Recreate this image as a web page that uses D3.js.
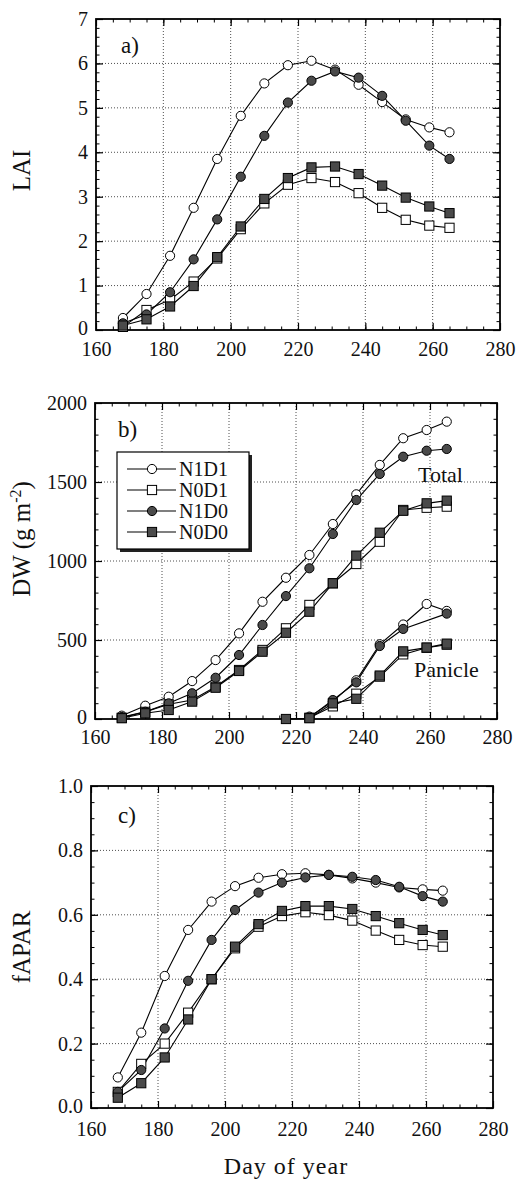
<!DOCTYPE html>
<html>
<head>
<meta charset="utf-8">
<script src="https://cdn.jsdelivr.net/npm/d3@7"></script>
<style>
  body { margin: 0; background: #fff; }
  svg text { font-family: "Liberation Serif", "DejaVu Serif", serif; fill: #111; }
</style>
</head>
<body>
<div id="chart"></div>
<script>
// sampling days (day of year)
var days = [168, 175, 182, 189, 196, 203, 210, 217, 224, 231, 238, 245, 252, 259, 265];
var panicleDays = [217, 224, 231, 238, 245, 252, 259, 265];

var xTicks = [160, 180, 200, 220, 240, 260, 280];

// a) LAI
var laiN1D1 = [0.27, 0.81, 1.67, 2.75, 3.85, 4.82, 5.55, 5.96, 6.06, 5.86, 5.52, 5.13, 4.74, 4.56, 4.45];
var laiN0D1 = [0.07, 0.45, 0.68, 1.09, 1.61, 2.27, 2.85, 3.27, 3.42, 3.33, 3.08, 2.75, 2.48, 2.35, 2.30];
var laiN1D0 = [0.15, 0.35, 0.85, 1.59, 2.49, 3.45, 4.37, 5.12, 5.61, 5.82, 5.68, 5.27, 4.71, 4.15, 3.85];
var laiN0D0 = [0.10, 0.24, 0.53, 0.99, 1.64, 2.33, 2.95, 3.42, 3.66, 3.68, 3.51, 3.25, 2.98, 2.78, 2.63];
var laiTicks = [0, 1, 2, 3, 4, 5, 6, 7];

// b) DW total and panicle
var dwN1D1 = [21, 84, 141, 240, 373, 542, 742, 894, 1038, 1234, 1422, 1608, 1777, 1829, 1882];
var dwN0D1 = [8, 45, 93, 120, 204, 310, 437, 574, 722, 859, 981, 1122, 1323, 1337, 1344];
var dwN1D0 = [12, 46, 99, 163, 261, 405, 595, 778, 954, 1171, 1386, 1551, 1660, 1698, 1709];
var dwN0D0 = [5, 36, 57, 110, 198, 304, 426, 546, 679, 859, 1034, 1179, 1318, 1365, 1382];
var panN1D1 = [null, 15, 110, 245, 473, 598, 728, 684];
var panN0D1 = [null, 8, 80, 160, 268, 409, 451, 470];
var panN1D0 = [null, 8, 120, 232, 462, 570, null, 667];
var panN0D0 = [0, 5, 99, 128, 275, 428, 452, 477];
var dwTicks = [0, 500, 1000, 1500, 2000];

// c) fAPAR
var fN1D1 = [0.095, 0.234, 0.41, 0.553, 0.641, 0.689, 0.715, 0.726, 0.729, 0.724, 0.713, 0.70, 0.685, 0.679, 0.675];
var fN0D1 = [0.05, 0.137, 0.20, 0.296, 0.40, 0.496, 0.563, 0.596, 0.608, 0.599, 0.582, 0.551, 0.522, 0.506, 0.501];
var fN1D0 = [0.05, 0.118, 0.247, 0.395, 0.522, 0.615, 0.669, 0.70, 0.716, 0.724, 0.718, 0.708, 0.687, 0.658, 0.641];
var fN0D0 = [0.032, 0.077, 0.157, 0.275, 0.40, 0.501, 0.571, 0.612, 0.627, 0.627, 0.618, 0.596, 0.574, 0.553, 0.537];
var fTicks = [0, 0.2, 0.4, 0.6, 0.8, 1.0];

var treatments = ["N1D1", "N0D1", "N1D0", "N0D0"];
// marker per treatment: shape + filled
var markers = {
    N1D1: { shape: "circle", fill: "#fff" },
    N0D1: { shape: "square", fill: "#fff" },
    N1D0: { shape: "circle", fill: "#4a4a4a" },
    N0D0: { shape: "square", fill: "#4a4a4a" }
};

var svgWidth = 517;
var svgHeight = 1180;

var svg = d3.select("#chart")
    .append("svg")
    .attr("width", svgWidth)
    .attr("height", svgHeight);

function pairUp(xs, ys) {
    var out = [];
    xs.forEach(function(d, i) {
        if (ys[i] !== null) out.push({ x: d, y: ys[i] });
    });
    return out;
}

function drawMarker(g, x, y, m) {
    if (m.shape === "circle") {
        g.append("circle")
            .attr("cx", x).attr("cy", y).attr("r", 4.6)
            .attr("fill", m.fill).attr("stroke", "#000").attr("stroke-width", 1);
    } else {
        g.append("rect")
            .attr("x", x - 4.6).attr("y", y - 4.6)
            .attr("width", 9.2).attr("height", 9.2)
            .attr("fill", m.fill).attr("stroke", "#000").attr("stroke-width", 1);
    }
}

function drawPanel(cfg) {
    var g = svg.append("g");
    var x = d3.scaleLinear().domain([160, 280]).range([cfg.left, cfg.right]);
    var y = d3.scaleLinear().domain(cfg.yDomain).range([cfg.bottom, cfg.top]);

    // dotted grid
    g.append("g").selectAll("line.vg")
        .data(xTicks.slice(1, -1))
        .enter().append("line")
        .attr("x1", d => x(d)).attr("x2", d => x(d))
        .attr("y1", cfg.top).attr("y2", cfg.bottom)
        .attr("stroke", "#222").attr("stroke-width", 0.8)
        .attr("stroke-dasharray", "1,2");
    g.append("g").selectAll("line.hg")
        .data(cfg.yTicks.slice(1, -1))
        .enter().append("line")
        .attr("x1", cfg.left).attr("x2", cfg.right)
        .attr("y1", d => y(d)).attr("y2", d => y(d))
        .attr("stroke", "#222").attr("stroke-width", 0.8)
        .attr("stroke-dasharray", "1,2");

    // minor + major ticks, inward on all four sides
    var xMinor = d3.range(160, 281, 5);
    var yMinor = d3.range(cfg.yDomain[0], cfg.yDomain[1] + cfg.minor / 2, cfg.minor);
    var axes = [
        { ax: d3.axisBottom(x), t: `translate(0,${cfg.bottom})`, minor: xMinor, major: xTicks, lab: true },
        { ax: d3.axisTop(x), t: `translate(0,${cfg.top})`, minor: xMinor, major: xTicks, lab: false },
        { ax: d3.axisLeft(y), t: `translate(${cfg.left},0)`, minor: yMinor, major: cfg.yTicks, lab: true },
        { ax: d3.axisRight(y), t: `translate(${cfg.right},0)`, minor: yMinor, major: cfg.yTicks, lab: false }
    ];
    axes.forEach(function(a, i) {
        var mg = g.append("g").attr("transform", a.t)
            .call(a.ax.tickValues(a.minor).tickSize(-3.5).tickFormat(""));
        mg.select(".domain").remove();
        mg.selectAll("line").attr("stroke", "#000").attr("stroke-width", 1);
        var big = g.append("g").attr("transform", a.t)
            .call(a.ax.tickValues(a.major).tickSize(-7).tickPadding(i === 0 ? cfg.xPad : 8)
                .tickFormat(a.lab ? (i === 0 ? d3.format("d") : cfg.fmt) : ""));
        big.select(".domain").remove();
        big.selectAll("line").attr("stroke", "#000").attr("stroke-width", 1.2);
        big.selectAll("text").attr("font-size", 20)
            .style("font-family", "'Liberation Serif', serif").attr("fill", "#111");
        // lift the corner "0" a touch so it clears the first day label
        if (i === 2) big.selectAll("text").filter(d => d === 0).attr("dy", "0.2em");
    });

    // frame
    g.append("rect")
        .attr("x", cfg.left).attr("y", cfg.top)
        .attr("width", cfg.right - cfg.left).attr("height", cfg.bottom - cfg.top)
        .attr("fill", "none").attr("stroke", "#000").attr("stroke-width", 1.8);

    // series
    var line = d3.line().x(d => x(d.x)).y(d => y(d.y));
    cfg.series.forEach(function(s) {
        var pts = pairUp(s.days, s.values);
        g.append("path").datum(pts)
            .attr("d", line)
            .attr("fill", "none").attr("stroke", "#000").attr("stroke-width", 1.1);
    });
    cfg.series.forEach(function(s) {
        var pts = pairUp(s.days, s.values);
        pts.forEach(function(p) {
            drawMarker(g, x(p.x), y(p.y), markers[s.name]);
        });
    });

    // panel tag
    g.append("text")
        .attr("x", cfg.tag[0]).attr("y", cfg.tag[1])
        .attr("font-size", 23)
        .text(cfg.tagText);

    // y title
    var yt = g.append("text")
        .attr("transform", `translate(${cfg.ytX},${(cfg.top + cfg.bottom) / 2 + cfg.ytShift}) rotate(-90)`)
        .attr("text-anchor", "middle")
        .attr("font-size", 25);
    cfg.ytitle(yt);

    return { g: g, x: x, y: y };
}

// a) LAI
drawPanel({
    left: 96, right: 500, top: 19, bottom: 330,
    yDomain: [0, 7], yTicks: laiTicks, minor: 0.2,
    fmt: d3.format("d"), xPad: 12,
    series: [
        { name: "N1D1", days: days, values: laiN1D1 },
        { name: "N0D1", days: days, values: laiN0D1 },
        { name: "N1D0", days: days, values: laiN1D0 },
        { name: "N0D0", days: days, values: laiN0D0 }
    ],
    tag: [121, 53], tagText: "a)",
    ytX: 30, ytShift: -4,
    ytitle: function(t) { t.text("LAI"); }
});

// b) DW
var pb = drawPanel({
    left: 95, right: 497, top: 403, bottom: 719,
    yDomain: [0, 2000], yTicks: dwTicks, minor: 100,
    fmt: d3.format("d"), xPad: 11,
    series: [
        { name: "N1D1", days: days, values: dwN1D1 },
        { name: "N0D1", days: days, values: dwN0D1 },
        { name: "N1D0", days: days, values: dwN1D0 },
        { name: "N0D0", days: days, values: dwN0D0 },
        { name: "N1D1", days: panicleDays, values: panN1D1 },
        { name: "N0D1", days: panicleDays, values: panN0D1 },
        { name: "N1D0", days: panicleDays, values: panN1D0 },
        { name: "N0D0", days: panicleDays, values: panN0D0 }
    ],
    tag: [118, 437], tagText: "b)",
    ytX: 30, ytShift: -22,
    ytitle: function(t) {
        t.append("tspan").text("DW  (g m");
        t.append("tspan").attr("dy", -9).attr("font-size", 16).text("-2");
        t.append("tspan").attr("dy", 9).text(")");
    }
});

pb.g.append("text").attr("x", 418).attr("y", 482).attr("font-size", 22).text("Total");
pb.g.append("text").attr("x", 414).attr("y", 677).attr("font-size", 22).text("Panicle");

// legend with drop shadow
var legend = pb.g.append("g");
legend.append("rect")
    .attr("x", 120).attr("y", 455).attr("width", 132).attr("height", 97)
    .attr("fill", "#222");
legend.append("rect")
    .attr("x", 117).attr("y", 452).attr("width", 132).attr("height", 97)
    .attr("fill", "#fff").attr("stroke", "#000").attr("stroke-width", 1.2);
treatments.forEach(function(name, i) {
    var ly = 469 + i * 21;
    legend.append("line")
        .attr("x1", 127).attr("x2", 176).attr("y1", ly).attr("y2", ly)
        .attr("stroke", "#000").attr("stroke-width", 1.1);
    drawMarker(legend, 152, ly, markers[name]);
    legend.append("text")
        .attr("x", 179).attr("y", ly + 7)
        .attr("font-size", 20)
        .text(name);
});

// c) fAPAR
drawPanel({
    left: 91, right: 493, top: 786, bottom: 1108,
    yDomain: [0, 1], yTicks: fTicks, minor: 0.05,
    fmt: d3.format(".1f"), xPad: 14,
    series: [
        { name: "N1D1", days: days, values: fN1D1 },
        { name: "N0D1", days: days, values: fN0D1 },
        { name: "N1D0", days: days, values: fN1D0 },
        { name: "N0D0", days: days, values: fN0D0 }
    ],
    tag: [118, 823], tagText: "c)",
    ytX: 30, ytShift: 0,
    ytitle: function(t) { t.text("fAPAR"); }
});

svg.append("text")
    .attr("x", 286).attr("y", 1174)
    .attr("text-anchor", "middle")
    .attr("font-size", 24)
    .attr("letter-spacing", 1)
    .text("Day of year");
</script>
</body>
</html>
